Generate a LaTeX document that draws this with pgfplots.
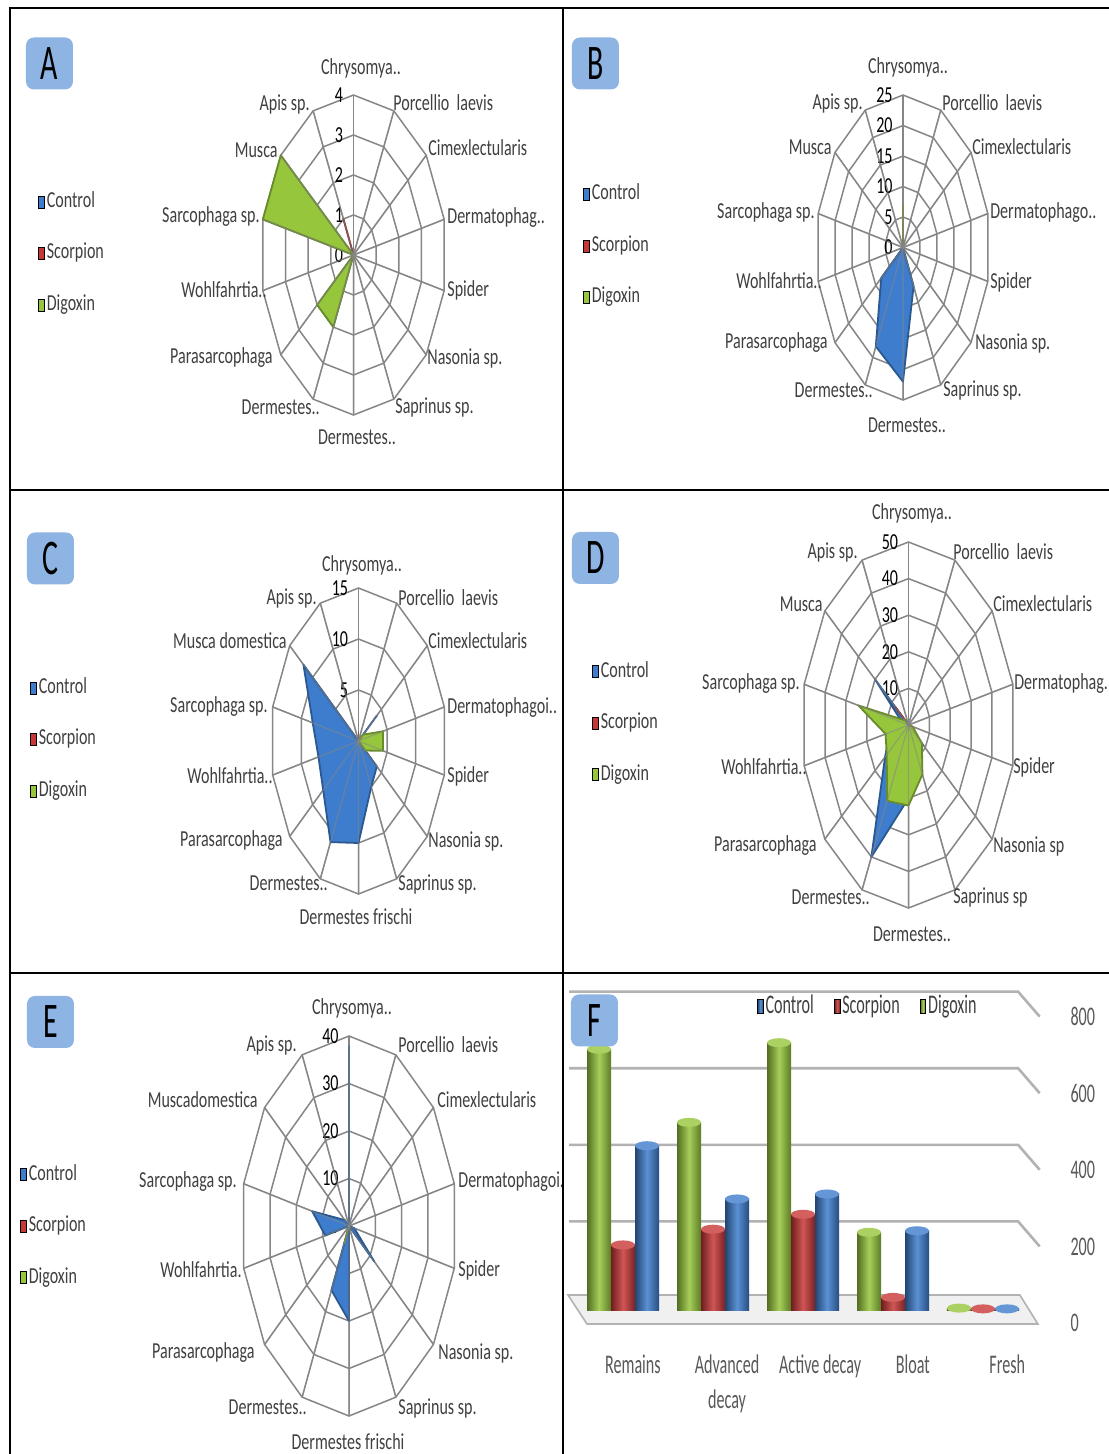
\documentclass[border=0pt]{standalone}
\usepackage{pgfplots}
\pgfplotsset{compat=1.18}
\usepackage{pgfplotstable}
\usetikzlibrary{shapes.geometric}
\usepackage{fontspec}
\setmainfont{Carlito}[FakeStretch=0.7]
\newfontfamily\fcond{Carlito}[FakeStretch=0.6]

\definecolor{cblue}{RGB}{62,125,205}
\definecolor{cred}{RGB}{200,55,55}
\definecolor{cgreen}{RGB}{150,198,60}
\definecolor{gridc}{RGB}{134,134,134}
\definecolor{lblbox}{RGB}{141,180,226}
\definecolor{txt}{RGB}{64,64,64}
\definecolor{ftxt}{RGB}{89,89,89}

% angle (deg, polar) | Control | Scorpion | Digoxin
\pgfplotstableread{
a c s d
90 0 0 0
64.2857 0 0 0
38.5714 0 0 0
12.8571 0 0 0
-12.8571 0 0 0
-38.5714 0 0 0
-64.2857 0 0 0
-90 0 0 0
-115.7143 0 0 2
-141.4286 0 0 2
-167.1429 0 0 0
-192.8571 0 0 4
-218.5714 0 0 4
-244.2857 0 1 0
-270 0 0 0
}\dataA
\pgfplotstableread{
a c s d
90 0 0 7
64.2857 0 0 0
38.5714 0 0 0
12.8571 0 0 0
-12.8571 0 0 0
-38.5714 0 0 0
-64.2857 7 0 0
-90 22 0 0
-115.7143 18 0 0
-141.4286 8 0 0
-167.1429 0 0 0
-192.8571 0 0 0
-218.5714 0 0 0
-244.2857 0 0 0
-270 0 0 7
}\dataB
\pgfplotstableread{
a c s d
90 0 1 0
64.2857 0 0 0
38.5714 4 0 1
12.8571 0 0 4.3
-12.8571 0 0 4.3
-38.5714 4 0 1.5
-64.2857 5 0 0
-90 10 0 0
-115.7143 11 0 0
-141.4286 7.7 0 0
-167.1429 7 0 0
-192.8571 8 0 0
-218.5714 12 0 0
-244.2857 0 0 0
-270 0 1 0
}\dataC
\pgfplotstableread{
a c s d
90 0 0 0
64.2857 0 0 0
38.5714 0 0 0
12.8571 0 0 0
-12.8571 0 0 2
-38.5714 9 0 8
-64.2857 0 0 15
-90 20 0 22
-115.7143 40 0 23
-141.4286 14 0 13
-167.1429 9 0 11
-192.8571 3 0 24
-218.5714 20 8 2
-244.2857 0 0 0
-270 0 0 0
}\dataD
\pgfplotstableread{
a c s d
90 38 0 0
64.2857 0 0 0
38.5714 0 0 0
12.8571 0 0 0
-12.8571 2 0 0
-38.5714 12 0 0
-64.2857 0 0 0
-90 20 0 0
-115.7143 15 0 4
-141.4286 0 0 0
-167.1429 9 0 0
-192.8571 14 0 0
-218.5714 2 0 0
-244.2857 0 0 0
-270 38 0 0
}\dataE

\pgfplotsset{
  radar/.style={scale only axis, hide axis, clip=false, anchor=center,
    xmin=-#1, xmax=#1, ymin=-#1, ymax=#1,
    legend style={anchor=west, draw=none, fill=none, inner sep=0pt,
      font=\fontsize{11.5}{13}\selectfont, text=txt, row sep=15.25bp,
      nodes={inner xsep=1bp, inner ysep=0pt, text height=8bp, text depth=2.5bp}},
    legend cell align=left,
    legend image code/.code={\fill[##1] (0bp,-3bp) rectangle (2.8bp,3bp);}},
  ser/.style={forget plot, data cs=polar, fill=#1, draw=#1!70!black,
    line width=0.9bp, line join=round},
  cyl/.style={forget plot, ybar, bar width=12bp, bar shift=0pt, draw=none,
    left color=#1!55!black, right color=#1!62!black, middle color=#1!85!white,
    every node near coord/.append style={fill=#1!80!white}},
}
\tikzset{
  gridl/.style={draw=gridc, line width=0.75bp},
  tlab/.style={anchor=east, inner sep=0pt, xshift=-5bp,
    font=\fontsize{11.5}{12}\selectfont, text=black},
  lbl/.style={inner sep=0pt, font=\fontsize{11.5}{12}\selectfont, text=txt},
  plbox/.style={fill=lblbox, rounded corners=4bp, minimum width=23.5bp,
    minimum height=26bp, inner sep=0pt, font=\fcond\fontsize{25}{25}\selectfont},
}
\newcommand\radargrid[3]{%
  \pgfplotsinvokeforeach{#2}{\draw[gridl] (axis cs:0,##1) \foreach \k in {1,...,13}{ -- (axis cs:{##1*sin(\k*360/14)},{##1*cos(\k*360/14)})} -- cycle;}%
  \pgfplotsinvokeforeach{0,...,13}{\draw[gridl] (axis cs:0,0) -- (axis cs:{#1*sin(##1*360/14)},{#1*cos(##1*360/14)});}%
  \pgfplotsinvokeforeach{#3}{\node[tlab] at (axis cs:0,##1) {##1};}%
}
\newcommand\radarspokes[1]{%
  \pgfplotsinvokeforeach{0,...,13}{\draw[gridl, line width=0.6bp, draw opacity=0.55] (axis cs:0,0) -- (axis cs:{#1*sin(##1*360/14)},{#1*cos(##1*360/14)});}%
}
\newcommand\radarseries[1]{%
  \addplot[ser=cblue] table[x=a,y=c]{#1};
  \addplot[ser=cred] table[x=a,y=s]{#1};
  \addplot[ser=cgreen] table[x=a,y=d]{#1};
}
\newcommand\radarlegend{%
  \addlegendimage{fill=cblue}\addlegendentry{Control}
  \addlegendimage{fill=cred}\addlegendentry{Scorpion}
  \addlegendimage{fill=cgreen}\addlegendentry{Digoxin}
}
\newcommand\clab[4]{\node[lbl,anchor=#1] at (#2,#3) {#4};}

\begin{document}
\begin{tikzpicture}
\useasboundingbox (0,0) rectangle (554.5bp,-727bp);
\fill[white] (0,0) rectangle (554.5bp,-727bp);
\clip (0,0) rectangle (554.5bp,-727bp);

% ---------- A ----------
\begin{axis}[radar=4, at={(176.75bp,-127.5bp)}, width=93bp, height=160bp,
  legend style={at={(-1.196,0.505)}}]
\radargrid{4}{1,2,3,4}{0,1,2,3,4}
\radarseries{\dataA}
\radarspokes{4}
\radarlegend
\end{axis}

% ---------- B ----------
\begin{axis}[radar=25, at={(451.5bp,-123.75bp)}, width=87bp, height=152.5bp,
  legend style={at={(-1.339,0.505)}}]
\radargrid{25}{5,10,15,20,25}{0,5,10,15,20,25}
\radarseries{\dataB}
\radarspokes{25}
\radarlegend
\end{axis}

% ---------- C ----------
\begin{axis}[radar=15, at={(179.25bp,-370.5bp)}, width=88bp, height=153bp,
  legend style={at={(-1.366,0.505)}}]
\radargrid{15}{5,10,15}{0,5,10,15}
\radarseries{\dataC}
\radarspokes{15}
\radarlegend
\end{axis}

% ---------- D ----------
\begin{axis}[radar=50, at={(454.25bp,-362.5bp)}, width=107bp, height=183bp,
  legend style={at={(-0.979,0.505)}}]
\radargrid{50}{10,20,30,40,50}{0,10,20,30,40,50}
\radarseries{\dataD}
\radarspokes{50}
\radarlegend
\end{axis}

% ---------- E ----------
\begin{axis}[radar=40, at={(174.5bp,-613bp)}, width=108bp, height=190bp,
  legend style={at={(-1.023,0.5)}}]
\radargrid{40}{10,20,30,40}{0,10,20,30,40}
\radarseries{\dataE}
\radarspokes{40}
\radarlegend
\end{axis}

% ---------- F ----------
\begin{axis}[at={(286.75bp,-655bp)}, anchor=south west,
  scale only axis, width=234bp, height=153.2bp,
  xmin=-0.55, xmax=4.65, ymin=0, ymax=800, clip=false,
  axis line style={draw=none}, tick style={draw=none},
  xtick={0.11,1.156,2.19,3.22,4.27},
  xticklabels={Remains,{Advanced\\decay},Active decay,Bloat,Fresh},
  xticklabel style={align=center, font=\fcond\fontsize{13.5}{17.5}\selectfont,
    text=ftxt, yshift=-19bp},
  ytick={0,200,400,600,800}, yticklabel pos=right,
  /pgf/number format/assume math mode=true,
  yticklabel style={font=\fcond\fontsize{13.5}{16}\selectfont, text=ftxt,
    xshift=11bp, yshift=-6.5bp},
  nodes near coords=\mbox{},
  every node near coord/.style={ellipse, inner sep=0pt, minimum width=12bp,
    minimum height=4.5bp, anchor=center},
  legend columns=3,
  legend style={at={(0.629,0.992)}, anchor=center, draw=none, fill=none,
    font=\fcond\fontsize{13.5}{16}\selectfont, text=txt,
    nodes={inner xsep=1bp, inner ysep=0pt},
    /tikz/every even column/.append style={column sep=9bp}},
  legend image code/.code={\fill[#1] (0bp,-3.5bp) rectangle (2.8bp,3.5bp);},
]
% floor and back wall
\fill[gray!12, draw=gray!60, line width=0.8bp]
  ([yshift=7.5bp]axis cs:-0.611,0) -- ([yshift=7.5bp]axis cs:4.41,0)
  -- ([yshift=-7bp]axis cs:4.61,0) -- ([yshift=-7bp]axis cs:-0.40,0) -- cycle;
\pgfplotsinvokeforeach{200,400,600,800}{%
  \draw[gray!60, line width=1.3bp] ([yshift=6bp]axis cs:-0.6,#1) -- ([yshift=6bp]axis cs:4.39,#1)
    -- ([yshift=-6.5bp]axis cs:4.63,#1);}
% Digoxin (left), Scorpion (middle), Control (right) in each stage
\addplot[cyl=cgreen] coordinates {(-0.2667,681)};
\addplot[cyl=cred]   coordinates {(0,170)};
\addplot[cyl=cblue]  coordinates {(0.2667,429)};
\addplot[cyl=cgreen] coordinates {(0.7333,490)};
\addplot[cyl=cred]   coordinates {(1,211)};
\addplot[cyl=cblue]  coordinates {(1.2667,290)};
\addplot[cyl=cgreen] coordinates {(1.7333,698)};
\addplot[cyl=cred]   coordinates {(2,250)};
\addplot[cyl=cblue]  coordinates {(2.2667,303)};
\addplot[cyl=cgreen] coordinates {(2.7333,203)};
\addplot[cyl=cred]   coordinates {(3,33)};
\addplot[cyl=cblue]  coordinates {(3.2667,207)};
\addplot[cyl=cgreen] coordinates {(3.7333,5)};
\addplot[cyl=cred]   coordinates {(4,3)};
\addplot[cyl=cblue]  coordinates {(4.2667,3)};
\addlegendimage{left color=cblue!55!black, right color=cblue!62!black, middle color=cblue!85!white}
\addlegendentry{Control}
\addlegendimage{left color=cred!55!black, right color=cred!62!black, middle color=cred!85!white}
\addlegendentry{Scorpion}
\addlegendimage{left color=cgreen!55!black, right color=cgreen!62!black, middle color=cgreen!85!white}
\addlegendentry{Digoxin}
\end{axis}

\begin{scope}[x=0.5bp,y=-0.5bp]
% A labels
\clab{center}{361}{68}{Chrysomya..}
\clab{east}{310}{104}{Apis sp.}
\clab{west}{393}{103}{Porcellio\ \ laevis}
\clab{east}{278}{150}{Musca}
\clab{west}{428}{148}{Cimexlectularis}
\clab{east}{260}{217}{Sarcophaga sp.}
\clab{west}{447}{218}{Dermatophag..}
\clab{east}{267}{290}{Wohlfahrtia..}
\clab{west}{447}{290}{Spider}
\clab{east}{273}{358}{Parasarcophaga}
\clab{west}{427}{358}{Nasonia sp.}
\clab{east}{320}{407}{Dermestes..}
\clab{west}{395}{407}{Saprinus sp.}
\clab{center}{357}{437}{Dermestes..}
% B labels
\clab{center}{908}{67}{Chrysomya..}
\clab{east}{863}{103}{Apis sp.}
\clab{west}{942}{103}{Porcellio\ \ laevis}
\clab{east}{832}{147}{Musca}
\clab{west}{972}{147}{Cimexlectularis}
\clab{east}{815}{213}{Sarcophaga sp.}
\clab{west}{990}{213}{Dermatophago..}
\clab{east}{822}{281}{Wohlfahrtia..}
\clab{west}{990}{282}{Spider}
\clab{east}{828}{343}{Parasarcophaga}
\clab{west}{975}{343}{Nasonia sp.}
\clab{east}{873}{390}{Dermestes..}
\clab{west}{943}{390}{Saprinus sp.}
\clab{center}{907}{425}{Dermestes..}
% C labels
\clab{center}{362}{565}{Chrysomya..}
\clab{east}{317}{598}{Apis sp.}
\clab{west}{398}{598}{Porcellio\ \ laevis}
\clab{east}{287}{641}{Musca domestica}
\clab{west}{428}{641}{Cimexlectularis}
\clab{east}{268}{707}{Sarcophaga sp.}
\clab{west}{447}{708}{Dermatophagoi..}
\clab{east}{273}{776}{Wohlfahrtia..}
\clab{west}{447}{776}{Spider}
\clab{east}{283}{841}{Parasarcophaga}
\clab{west}{428}{841}{Nasonia sp.}
\clab{east}{328}{883}{Dermestes..}
\clab{west}{398}{884}{Saprinus sp.}
\clab{center}{356}{917}{Dermestes frischi}
% D labels
\clab{center}{912}{513}{Chrysomya..}
\clab{east}{858}{552}{Apis sp.}
\clab{west}{953}{552}{Porcellio\ \ laevis}
\clab{east}{823}{604}{Musca}
\clab{west}{993}{604}{Cimexlectularis}
\clab{east}{800}{684}{Sarcophaga sp.}
\clab{west}{1014}{684}{Dermatophag.}
\clab{east}{807}{767}{Wohlfahrtia..}
\clab{west}{1013}{767}{Spider}
\clab{east}{817}{846}{Parasarcophaga}
\clab{west}{993}{846}{Nasonia sp}
\clab{east}{870}{897}{Dermestes..}
\clab{west}{953}{897}{Saprinus sp}
\clab{center}{912}{934}{Dermestes..}
% E labels
\clab{center}{352}{1008}{Chrysomya..}
\clab{east}{297}{1045}{Apis sp.}
\clab{west}{398}{1045}{Porcellio\ \ laevis}
\clab{east}{258}{1100}{Muscadomestica}
\clab{west}{437}{1100}{Cimexlectularis}
\clab{east}{237}{1182}{Sarcophaga sp.}
\clab{west}{458}{1182}{Dermatophagoi.}
\clab{east}{242}{1270}{Wohlfahrtia.}
\clab{west}{458}{1270}{Spider}
\clab{east}{255}{1353}{Parasarcophaga}
\clab{west}{438}{1353}{Nasonia sp.}
\clab{east}{307}{1407}{Dermestes..}
\clab{west}{398}{1408}{Saprinus sp.}
\clab{center}{348}{1442}{Dermestes frischi}

% frame
\draw[black, line width=1bp] (10,1454) -- (10,8) -- (1109,8);
\draw[black, line width=1bp] (563,8) -- (563,1454);
\draw[black, line width=1bp] (10,490) -- (1109,490);
\draw[black, line width=1bp] (10,973) -- (1109,973);

% panel letters
\node[plbox] at (49.5,63.5) {A};
\node[plbox] at (595.5,63.5) {B};
\node[plbox] at (50.5,558.5) {C};
\node[plbox] at (595.5,558) {D};
\node[plbox] at (50.5,1022) {E};
\node[plbox] at (594.5,1020.5) {F};
\end{scope}
\end{tikzpicture}
\end{document}
